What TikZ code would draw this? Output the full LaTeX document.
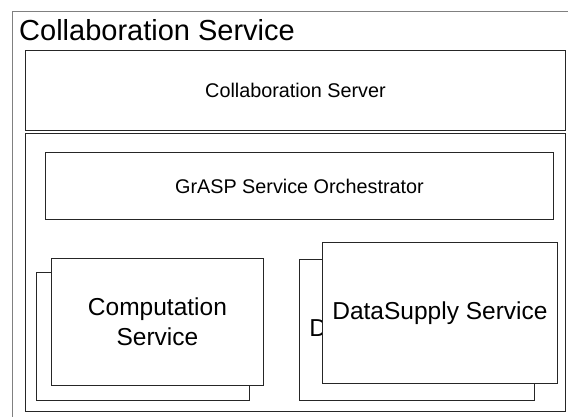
\documentclass[tikz,border=0pt]{standalone}
\usepackage{fontspec}
\setmainfont{Liberation Sans}
\begin{document}
\begin{tikzpicture}[x=1pt,y=-1pt,
  box/.style={draw=black!85, line width=0.9pt, fill=white, anchor=north west, inner sep=0pt, align=center},
  outerbox/.style={draw=black!50, line width=1.4pt, fill=white, anchor=north west, inner sep=0pt},
  midfont/.style={font=\fontsize{19.8}{24}\selectfont},
  bigfont/.style={font=\fontsize{24.5}{30}\selectfont},
  titlefont/.style={font=\fontsize{29}{35}\selectfont}]
\useasboundingbox (0,0) rectangle (568,416);
\clip (0,0) rectangle (568,416);
% outer container
\node[outerbox, minimum width=560pt, minimum height=409pt] (outer) at (12,11) {};
\node[titlefont, anchor=base west, inner sep=0pt] (title) at (19,40) {Collaboration Service};
% server
\node[box, midfont, minimum width=540pt, minimum height=80pt] (server) at (25,50) {Collaboration Server};
% inner container
\node[box, minimum width=540pt, minimum height=278pt] (inner) at (25,133) {};
% orchestrator
\node[box, midfont, minimum width=508pt, minimum height=67pt] (orch) at (45,152) {GrASP Service Orchestrator};
% computation service (stacked)
\node[box, minimum width=213pt, minimum height=128pt] (compback) at (36,272) {};
\node[box, bigfont, minimum width=212pt, minimum height=127pt] (comp) at (51,258) {Computation\\Service};
% datasupply service (stacked)
\node[box, bigfont, minimum width=235pt, minimum height=141pt] (databack) at (299,259) {DataSupply Service};
\node[box, bigfont, minimum width=235pt, minimum height=141pt] (data) at (322,242) {DataSupply Service};
\end{tikzpicture}
\end{document}
